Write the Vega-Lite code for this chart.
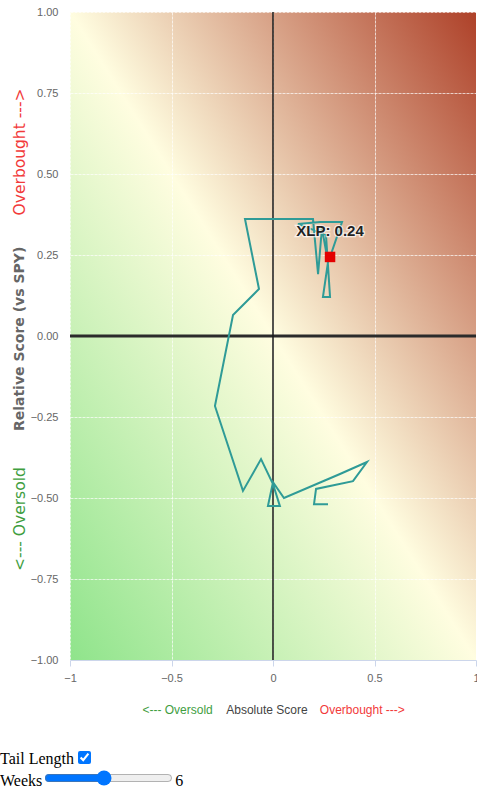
{
  "$schema": "https://vega.github.io/schema/vega-lite/v6.json",
  "width": 406,
  "height": 648,
  "autosize": {"type": "none"},
  "padding": {"left": 70, "top": 12, "right": 1, "bottom": 88},
  "background": "#ffffff",
  "params": [
    {"name": "showTail", "value": true, "bind": {"input": "checkbox", "name": "Tail Length"}},
    {"name": "tail", "value": 6, "bind": {"input": "range", "min": 1, "max": 12, "step": 1, "name": "Weeks"}}
  ],
  "config": {
    "font": "Liberation Sans, sans-serif",
    "axis": {
      "grid": true,
      "gridColor": "#ffffff",
      "gridOpacity": 0.7,
      "gridDash": [3, 1],
      "gridWidth": 1,
      "labelColor": "#666666",
      "labelFontSize": 11,
      "labelFont": "Liberation Sans, sans-serif",
      "title": null
    }
  },
  "datasets": {
    "path": [
      {"i": 0, "wk": 6, "x": 0.271, "y": -0.519},
      {"i": 1, "wk": 6, "x": 0.202, "y": -0.519},
      {"i": 2, "wk": 6, "x": 0.212, "y": -0.472},
      {"i": 3, "wk": 6, "x": 0.394, "y": -0.448},
      {"i": 4, "wk": 6, "x": 0.463, "y": -0.389},
      {"i": 5, "wk": 5, "x": 0.330, "y": -0.426},
      {"i": 6, "wk": 5, "x": 0.054, "y": -0.500},
      {"i": 7, "wk": 5, "x": 0.000, "y": -0.451},
      {"i": 8, "wk": 5, "x": -0.025, "y": -0.525},
      {"i": 9, "wk": 5, "x": 0.034, "y": -0.525},
      {"i": 10, "wk": 4, "x": 0.000, "y": -0.457},
      {"i": 11, "wk": 4, "x": -0.059, "y": -0.380},
      {"i": 12, "wk": 4, "x": -0.148, "y": -0.478},
      {"i": 13, "wk": 4, "x": -0.286, "y": -0.216},
      {"i": 14, "wk": 3, "x": -0.197, "y": 0.065},
      {"i": 15, "wk": 3, "x": -0.069, "y": 0.145},
      {"i": 16, "wk": 3, "x": -0.138, "y": 0.361},
      {"i": 17, "wk": 3, "x": 0.197, "y": 0.361},
      {"i": 18, "wk": 2, "x": 0.222, "y": 0.191},
      {"i": 19, "wk": 2, "x": 0.241, "y": 0.333},
      {"i": 20, "wk": 2, "x": 0.271, "y": 0.228},
      {"i": 21, "wk": 2, "x": 0.246, "y": 0.120},
      {"i": 22, "wk": 1, "x": 0.281, "y": 0.120},
      {"i": 23, "wk": 1, "x": 0.261, "y": 0.312},
      {"i": 24, "wk": 1, "x": 0.123, "y": 0.346},
      {"i": 25, "wk": 1, "x": 0.232, "y": 0.352},
      {"i": 26, "wk": 0, "x": 0.340, "y": 0.352},
      {"i": 27, "wk": 0, "x": 0.281, "y": 0.244}
    ],
    "now": [{"ticker": "XLP", "x": 0.281, "y": 0.244, "label": "XLP: 0.24"}],
    "zero": [{"v": 0}],
    "titles": [
      {"axis": "x", "part": "<--- Oversold", "x": -0.47, "y": -1.155, "c": "green", "w": "normal"},
      {"axis": "x", "part": "Absolute Score", "x": -0.03, "y": -1.155, "c": "gray", "w": "normal"},
      {"axis": "x", "part": "Overbought --->", "x": 0.44, "y": -1.155, "c": "red", "w": "normal"},
      {"axis": "y", "part": "<--- Oversold", "x": -1.246, "y": -0.565, "c": "green", "w": "normal"},
      {"axis": "y", "part": "Relative Score (vs SPY)", "x": -1.246, "y": -0.009, "c": "gray", "w": "bold"},
      {"axis": "y", "part": "Overbought --->", "x": -1.246, "y": 0.568, "c": "red", "w": "normal"}
    ]
  },
  "view": {
    "stroke": null,
    "fill": {
      "gradient": "linear",
      "x1": 0, "y1": 1, "x2": 1, "y2": 0,
      "stops": [
        {"offset": 0, "color": "#8fe48b"},
        {"offset": 0.5, "color": "#fffde0"},
        {"offset": 1, "color": "#ae4129"}
      ]
    }
  },
  "layer": [
    {
      "data": {"name": "zero"},
      "mark": {"type": "rule", "color": "#2b2b2b", "strokeWidth": 3},
      "encoding": {
        "y": {
          "field": "v", "type": "quantitative",
          "scale": {"domain": [-1, 1], "nice": false, "zero": false},
          "axis": {
            "values": [-1, -0.75, -0.5, -0.25, 0, 0.25, 0.5, 0.75, 1],
            "format": ".2f",
            "domain": false,
            "ticks": false,
            "labelPadding": 12
          }
        }
      }
    },
    {
      "data": {"name": "zero"},
      "mark": {"type": "rule", "color": "#1a1a1a", "strokeWidth": 1.5},
      "encoding": {
        "x": {
          "field": "v", "type": "quantitative",
          "scale": {"domain": [-1, 1], "nice": false, "zero": false},
          "axis": {
            "values": [-1, -0.5, 0, 0.5, 1],
            "format": "~g",
            "domainColor": "#ccd6eb",
            "tickColor": "#ccd6eb",
            "tickSize": 6,
            "labelPadding": 6,
            "labelFlush": false
          }
        }
      }
    },
    {
      "data": {"name": "path"},
      "transform": [{"filter": "showTail && datum.wk <= tail"}],
      "mark": {"type": "line", "color": "#2f9b97", "strokeWidth": 2},
      "encoding": {
        "x": {"field": "x", "type": "quantitative"},
        "y": {"field": "y", "type": "quantitative"},
        "order": {"field": "i", "type": "quantitative"}
      }
    },
    {
      "data": {"name": "now"},
      "mark": {"type": "square", "color": "#e30000", "opacity": 1, "size": 110},
      "encoding": {
        "x": {"field": "x", "type": "quantitative"},
        "y": {"field": "y", "type": "quantitative"}
      }
    },
    {
      "data": {"name": "now"},
      "mark": {"type": "text", "dy": -26, "fontSize": 15, "fontWeight": "bold", "stroke": "#ffffff", "strokeWidth": 2.5, "strokeOpacity": 0.7, "fill": "#ffffff", "font": "Liberation Sans, sans-serif"},
      "encoding": {
        "x": {"field": "x", "type": "quantitative"},
        "y": {"field": "y", "type": "quantitative"},
        "text": {"field": "label"}
      }
    },
    {
      "data": {"name": "now"},
      "mark": {"type": "text", "dy": -26, "fontSize": 15, "fontWeight": "bold", "color": "#222222", "font": "Liberation Sans, sans-serif"},
      "encoding": {
        "x": {"field": "x", "type": "quantitative"},
        "y": {"field": "y", "type": "quantitative"},
        "text": {"field": "label"}
      }
    },
    {
      "data": {"name": "titles"},
      "transform": [{"filter": "datum.axis == 'x'"}],
      "mark": {"type": "text", "fontSize": 12, "font": "Liberation Sans, sans-serif", "baseline": "middle"},
      "encoding": {
        "x": {"field": "x", "type": "quantitative"},
        "y": {"field": "y", "type": "quantitative"},
        "text": {"field": "part"},
        "color": {"field": "c", "type": "nominal", "scale": {"domain": ["green", "gray", "red"], "range": ["#3f9e3f", "#444444", "#f23a3a"]}, "legend": null}
      }
    },
    {
      "data": {"name": "titles"},
      "transform": [{"filter": "datum.axis == 'y' && datum.w == 'normal'"}],
      "mark": {"type": "text", "fontSize": 15.5, "angle": 270, "font": "DejaVu Sans, sans-serif", "baseline": "middle"},
      "encoding": {
        "x": {"field": "x", "type": "quantitative"},
        "y": {"field": "y", "type": "quantitative"},
        "text": {"field": "part"},
        "color": {"field": "c", "type": "nominal", "scale": {"domain": ["green", "gray", "red"], "range": ["#3f9e3f", "#555555", "#f23a3a"]}, "legend": null}
      }
    },
    {
      "data": {"name": "titles"},
      "transform": [{"filter": "datum.axis == 'y' && datum.w == 'bold'"}],
      "mark": {"type": "text", "fontSize": 14, "fontWeight": "bold", "angle": 270, "font": "DejaVu Sans, sans-serif", "baseline": "middle", "color": "#666666"},
      "encoding": {
        "x": {"field": "x", "type": "quantitative"},
        "y": {"field": "y", "type": "quantitative"},
        "text": {"field": "part"}
      }
    }
  ]
}
